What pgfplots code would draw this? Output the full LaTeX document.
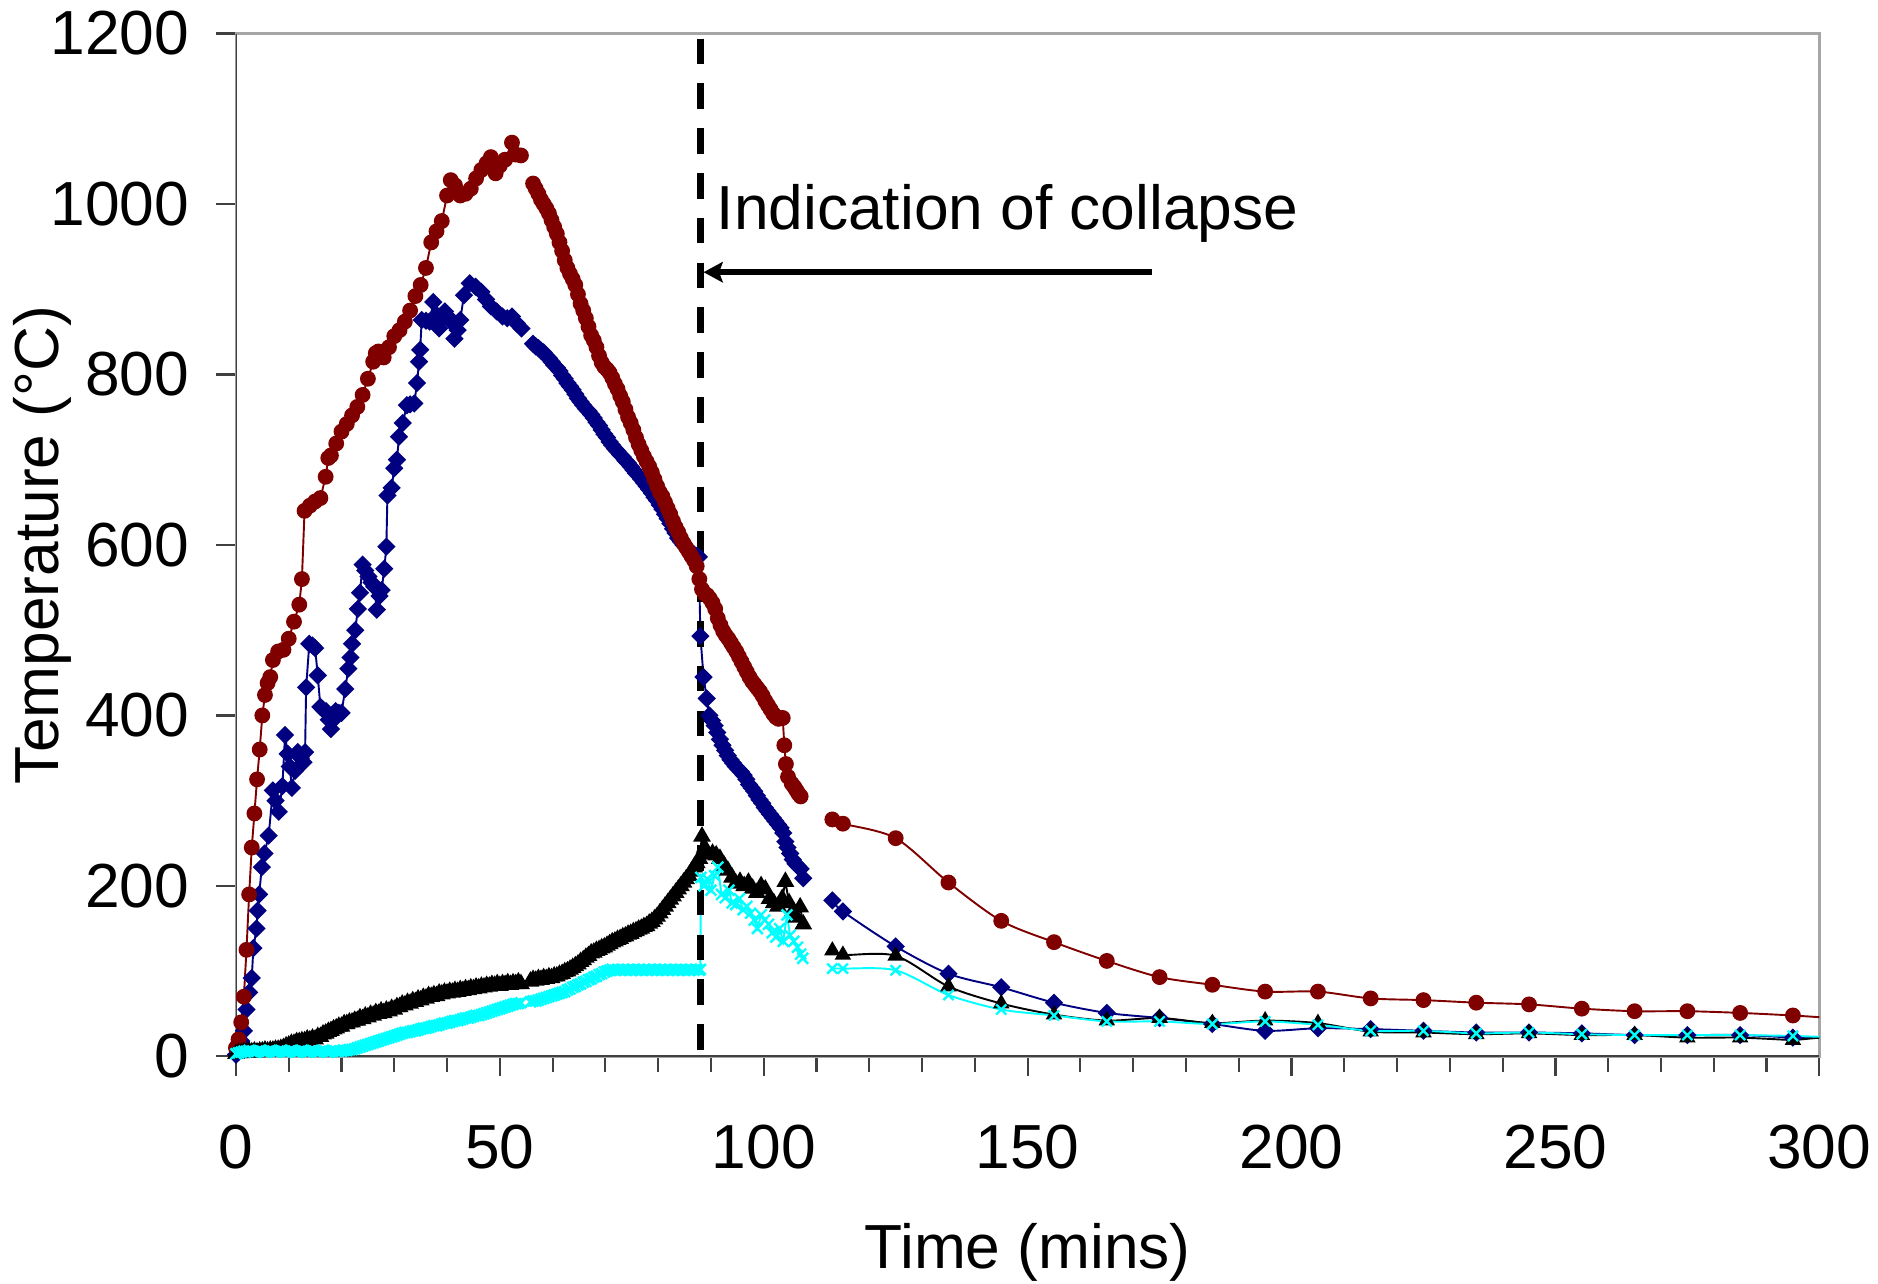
\documentclass[border=0pt]{standalone}
\usepackage{pgfplots}
\pgfplotsset{compat=1.18}
\usepackage{fontspec}
\setmainfont{Liberation Sans}
\usetikzlibrary{arrows.meta}
\definecolor{dred}{HTML}{800000}
\definecolor{dblue}{HTML}{000080}
\definecolor{cy}{HTML}{00FFFF}
\newcommand\bigf{\fontsize{26}{31}\selectfont}
\begin{document}
\begin{tikzpicture}
\begin{axis}[
  scale only axis, width=661pt, height=427pt,
  xmin=0, xmax=300, ymin=0, ymax=1200,
  xtick={0,50,...,300}, ytick={0,200,...,1200},
  minor x tick num=4,
  tick align=outside, xtick pos=bottom, ytick pos=left,
  major tick length=8.3pt, minor tick length=6.7pt,
  axis line style={gray!70, line width=1pt},
  tick style={black!75, line width=0.9pt},
  unbounded coords=jump,
  /pgf/number format/assume math mode=true,
  /pgf/number format/1000 sep={},
  tick label style={font=\bigf},
  xticklabel style={anchor=base, inner sep=0pt, yshift=-38.5pt},
  yticklabel style={anchor=east, inner sep=0pt, xshift=-11pt},
  xlabel={Time (mins)}, ylabel={Temperature (°C)},
  label style={font=\bigf},
  xlabel style={at={(axis description cs:0.5,0)}, anchor=base, inner sep=0pt, yshift=-88.5pt},
  ylabel style={at={(axis description cs:-0.1225,0.5)}, anchor=center, inner sep=0pt},
]
\coordinate (O) at (rel axis cs:0,0);
% ---------- blue (diamonds) ----------
\addplot[dblue, line width=0.8pt, mark=square*, mark size=2.3pt, mark options={rotate=45, fill=dblue, draw=dblue}] coordinates {
(0,2)(0.5,5)(1,18)(1.5,30)(2,55)(2.5,75)(3,92)(3.3,127)(3.9,150)(4.1,171)(4.4,190)(4.9,222)(5.4,238)(6.2,259)(7,312)(7.5,300)(8.1,287)(8.8,317)(9.3,377)(9.8,355)(10.2,340)(10.6,315)(11.2,335)(11.7,357)(12.3,350)(12.8,345)(13.1,357)(13.3,433)(13.9,484)(14.5,482)(15,479)(15.5,447)(16,410)(16.5,407)(17.1,405)(17.6,395)(18,384)(18.5,395)(18.9,405)(19.5,403)(20,403)(20.7,431)(21.3,455)(21.7,468)(22,484)(22.6,500)(23.1,525)(23.5,544)(24,577)(24.5,570)(25.1,563)(25.7,556)(26.2,551)(26.7,524)(27.2,540)(27.6,547)(28.1,572)(28.5,598)(28.7,658)(29.5,667)(30,690)(30.5,700)(30.9,727)(31.6,743)(32.4,764)(33,765)(33.8,766)(34.3,790)(34.7,815)(34.9,829)(35.2,864)(36,863)(36.7,862)(37.4,885)(38,870)(38.5,854)(39,865)(39.6,874)(40.2,868)(40.7,862)(41.4,842)(42,852)(42.5,864)(43.2,893)(44.3,907)(45.4,903)(46.5,897)(47.4,888)(48.3,880)(49.4,874)(50.5,868)(51.4,866)(52.3,868)(53.2,860)(54.1,854)
(55,nan)
(56.3,836)(56.8,833)(57.3,831)(57.8,828)(58.3,826)(58.8,822)(59.3,819)(59.8,815)(60.3,811)(60.8,808)(61.3,804)(61.8,799)(62.3,795)(62.8,790)(63.3,786)(63.8,782)(64.3,777)(64.8,772)(65.3,768)(65.8,764)(66.3,760)(66.8,757)(67.3,753)(67.8,749)(68.3,744)(68.8,740)(69.3,735)(69.8,730)(70.3,726)(70.8,721)(71.3,717)(71.8,713)(72.3,710)(72.8,706)(73.3,703)(73.8,699)(74.3,696)(74.8,692)(75.3,688)(75.8,684)(76.3,681)(76.8,677)(77.3,673)(77.8,669)(78.3,665)(78.8,661)(79.3,656)(79.8,652)(80.3,647)(80.8,642)(81.3,636)(81.8,631)(82.3,625)(82.8,619)(83.3,614)(83.8,608)(84.3,604)(84.8,600)(85.3,597)(85.8,594)(86.3,591)(86.8,589)(87.3,587)(87.7,586)
(88,493)(88.6,445)(89.2,420)(89.7,400)(90.2,394)(90.7,388)(91.2,380)(91.7,372)(92.2,365)(92.7,359)(93.2,353)(93.7,348)(94.2,344)(94.7,340)(95.2,337)(95.7,334)(96.2,330)(96.7,325)(97.2,319)(97.7,315)(98.2,311)(98.7,306)(99.2,301)(99.7,297)(100.2,292)(100.7,288)(101.2,284)(101.7,280)(102.2,276)(102.7,272)(103.2,268)(103.7,262)(104.1,252)(104.5,245)(105,238)(105.5,231)(106,226)(106.5,223)(107,220)(107.5,209)
};
\addplot[dblue, line width=0.8pt, smooth, mark=square*, mark size=2.3pt, mark options={rotate=45, fill=dblue, draw=dblue}] coordinates {
(113,183)(115,170)(125,129)(135,97)(145,81)(155,63)(165,51)(175,45)(185,38)(195,30)(205,33)(215,32)(225,30)(235,28)(245,28)(255,27)(265,25)(275,25)(285,25)(295,22)
};
\addplot[dblue, line width=0.8pt] coordinates {(295,22)(300,22)};
% ---------- red (circles) ----------
\addplot[dred, line width=0.8pt, mark=*, mark size=2.9pt, mark options={fill=dred, draw=dred}] coordinates {
(0,10)(0.5,20)(1,40)(1.5,70)(2,125)(2.5,190)(3,245)(3.5,285)(4,325)(4.5,360)(5,400)(5.5,424)(6,438)(6.5,445)(7,465)(8,475)(9,477)(10,490)(11,510)(12,530)(12.5,560)(13,640)(14,646)(15,651)(16,655)(17,680)(17.5,702)(18,705)(19,719)(20,733)(21,742)(22,752)(23,762)(24,776)(25,795)(26,815)(26.5,825)(27,827)(28,820)(29,832)(30,845)(31,852)(32,862)(33,875)(34,892)(35,905)(36,925)(37,955)(38,968)(39,980)(40,1010)(40.7,1028)(41.5,1022)(42.5,1010)(43.5,1012)(44.5,1018)(45.5,1030)(46.5,1040)(47.5,1048)(48.3,1055)(49.2,1036)(50,1045)(51,1052)(52.3,1072)(53,1058)(54,1057)
(55,nan)
(56.3,1024)(56.8,1018)(57.3,1012)(57.8,1005)(58.3,1000)(58.8,995)(59.3,989)(59.8,981)(60.3,973)(60.8,965)(61.3,955)(61.8,945)(62.3,934)(62.8,925)(63.3,918)(63.8,912)(64.3,905)(64.8,894)(65.3,883)(65.8,875)(66.3,866)(66.8,856)(67.3,846)(67.8,840)(68.3,832)(68.8,822)(69.3,814)(69.8,809)(70.3,806)(70.8,802)(71.3,796)(71.8,789)(72.3,783)(72.8,775)(73.3,768)(73.8,759)(74.3,750)(74.8,743)(75.3,735)(75.8,726)(76.3,718)(76.8,711)(77.3,704)(77.8,698)(78.3,692)(78.8,685)(79.3,677)(79.8,669)(80.3,662)(80.8,657)(81.3,650)(81.8,643)(82.3,636)(82.8,628)(83.3,621)(83.8,615)(84.3,608)(84.8,602)(85.3,597)(85.8,592)(86.3,587)(86.8,582)(87.3,575)(87.8,560)(88.3,548)(88.8,543)(89.3,541)(89.8,537)(90.3,532)(90.8,525)(91.3,514)(91.8,506)(92.3,499)(92.8,494)(93.3,490)(93.8,485)(94.3,480)(94.8,475)(95.3,469)(95.8,463)(96.3,457)(96.8,451)(97.3,445)(97.8,440)(98.3,436)(98.8,432)(99.3,428)(99.8,423)(100.3,417)(100.8,412)(101.3,407)(101.8,402)(102.3,398)(102.8,396)(103.3,397)(103.6,397)(103.9,365)(104.2,343)(104.6,328)(105.3,320)(105.8,316)(106.2,312)(106.6,308)(107,305)
};
\addplot[dred, line width=0.8pt, smooth, mark=*, mark size=2.9pt, mark options={fill=dred, draw=dred}] coordinates {
(113,278)(115,273)(125,256)(135,204)(145,159)(155,134)(165,112)(175,93)(185,84)(195,76)(205,76)(215,68)(225,66)(235,63)(245,61)(255,56)(265,53)(275,53)(285,51)(295,48)
};
\addplot[dred, line width=0.8pt] coordinates {(295,48)(300,46)};
% ---------- black (triangles) ----------
\addplot[black, line width=0.8pt, mark=triangle*, mark size=3.5pt, mark options={fill=black}] coordinates {
(0,3)(0.5,4)(1,4)(1.5,5)(2,5)(2.5,6)(3,5)(3.5,6)(4,5)(4.5,6)(5,6)(5.5,7)(6,6)(6.5,7)(7,7)(7.5,8)(8,8)(8.5,9)(9,10)(9.5,12)(10,13)(10.5,15)(11,15)(11.5,17)(12,17)(12.5,18)(13,18)(13.5,20)(14,19)(14.5,21)(15,20)(15.5,23)(16,23)(16.5,26)(17,27)(17.5,29)(18,30)(18.5,32)(19,33)(19.5,35)(20,35)(20.5,38)(21,38)(21.5,40)(22,40)(22.5,42)(23,42)(23.5,45)(24,44)(24.5,47)(25,46)(25.5,49)(26,48)(26.5,51)(27,50)(27.5,53)(28,51)(28.5,54)(29,53)(29.5,56)(30,55)(30.5,58)(31,58)(31.5,61)(32,60)(32.5,63)(33,62)(33.5,65)(34,64)(34.5,67)(35,66)(35.5,69)(36,68)(36.5,71)(37,70)(37.5,72)(38,71)(38.5,74)(39,73)(39.5,75)(40,74)(40.5,76)(41,75)(41.5,77)(42,76)(42.5,78)(43,77)(43.5,79)(44,78)(44.5,80)(45,79)(45.5,81)(46,80)(46.5,82)(47,81)(47.5,83)(48,82)(48.5,84)(49,83)(49.5,85)(50,83)(50.5,85)(51,84)(51.5,86)(52,84)(52.5,86)(53,85)(53.5,87)(54,85)
(55,nan)
(55.8,88)(56.3,90)(56.8,89)(57.3,91)(57.8,90)(58.3,92)(58.8,91)(59.3,93)(59.8,92)(60.3,94)(60.8,94)(61.3,96)(61.8,97)(62.3,99)(62.8,100)(63.3,102)(63.8,104)(64.3,106)(64.8,108)(65.3,111)(65.8,113)(66.3,116)(66.8,118)(67.3,121)(67.8,122)(68.3,124)(68.8,125)(69.3,127)(69.8,128)(70.3,130)(70.8,132)(71.3,134)(71.8,135)(72.3,137)(72.8,138)(73.3,140)(73.8,141)(74.3,143)(74.8,144)(75.3,146)(75.8,147)(76.3,149)(76.8,150)(77.3,152)(77.8,153)(78.3,156)(78.8,158)(79.3,161)(79.8,164)(80.3,168)(80.8,172)(81.3,176)(81.8,180)(82.3,184)(82.8,188)(83.3,192)(83.8,196)(84.3,200)(84.8,204)(85.3,208)(85.8,212)(86.3,217)(86.8,222)(87.3,227)(87.8,232)(88.3,258)(88.8,245)(89.5,237)(90.3,238)(91,236)(91.7,232)(92.5,224)(93.2,218)(94,210)(94.7,203)(95.5,205)(96.3,200)(97.1,204)(97.9,197)(98.7,192)(99.5,200)(100.3,196)(101.1,185)(101.9,180)(102.7,176)(103.5,185)(104.1,205)(104.8,180)(105.5,170)(106.2,163)(106.9,175)(107.5,155)
};
\addplot[black, line width=0.8pt, smooth, mark=triangle*, mark size=3.2pt, mark options={fill=black}] coordinates {
(113,124)(115,119)(125,118)(135,82)(145,62)(155,49)(165,42)(175,45)(185,39)(195,42)(205,39)(215,29)(225,28)(235,26)(245,27)(255,25)(265,25)(275,22)(285,22)(295,19)
};
\addplot[black, line width=0.8pt] coordinates {(295,19)(300,22)};
% ---------- cyan (x) ----------
\addplot[cy, line width=0.8pt, mark=x, mark size=3.2pt, mark options={line width=1pt}] coordinates {
(0,3)(0.5,4)(1,5)(1.5,6)(2,6)(2.5,7)(3,6)(3.5,5)(4,6)(4.5,7)(5,6)(5.5,5)(6,6)(6.5,7)(7,6)(7.5,5)(8,6)(8.5,7)(9,6)(9.5,5)(10,6)(10.5,7)(11,6)(11.5,5)(12,6)(12.5,7)(13,6)(13.5,5)(14,6)(14.5,7)(15,6)(15.5,5)(16,6)(16.5,7)(17,6)(17.5,5)(18,6)(18.5,7)(19,6)(19.5,6)(20,6)(20.5,7)(21,7)(21.5,8)(22,8)(22.5,9)(23,10)(23.5,11)(24,12)(24.5,13)(25,14)(25.5,15)(26,16)(26.5,17)(27,18)(27.5,19)(28,20)(28.5,21)(29,22)(29.5,23)(30,24)(30.5,25)(31,26)(31.5,27)(32,28)(32.5,28)(33,29)(33.5,30)(34,30)(34.5,31)(35,32)(35.5,33)(36,33)(36.5,34)(37,35)(37.5,36)(38,36)(38.5,37)(39,38)(39.5,39)(40,39)(40.5,40)(41,41)(41.5,42)(42,42)(42.5,43)(43,44)(43.5,45)(44,45)(44.5,46)(45,47)(45.5,48)(46,48)(46.5,49)(47,50)(47.5,51)(48,52)(48.5,53)(49,54)(49.5,55)(50,56)(50.5,57)(51,58)(51.5,59)(52,60)(52.5,61)(53,62)(53.5,62)(54,63)
(55,nan)
(55.8,64)(56.3,65)(56.8,65)(57.3,66)(57.8,67)(58.3,68)(58.8,69)(59.3,70)(59.8,71)(60.3,72)(60.8,73)(61.3,74)(61.8,75)(62.3,76)(62.8,78)(63.3,79)(63.8,81)(64.3,82)(64.8,84)(65.3,85)(65.8,87)(66.3,88)(66.8,90)(67.3,91)(67.8,93)(68.3,94)(68.8,96)(69.3,97)(69.8,99)(70.3,100)(70.8,101)(71.3,102)(71.8,101)(72.3,102)(72.8,101)(73.3,102)(73.8,101)(74.3,102)(74.8,101)(75.3,102)(75.8,101)(76.3,102)(76.8,101)(77.3,102)(77.8,101)(78.3,102)(78.8,101)(79.3,102)(79.8,101)(80.3,102)(80.8,101)(81.3,102)(81.8,101)(82.3,102)(82.8,101)(83.3,102)(83.8,101)(84.3,102)(84.8,101)(85.3,102)(85.8,101)(86.3,102)(86.8,101)(87.3,102)(87.8,101)(88,102)
(88.1,210)(88.7,200)(89.3,208)(90,195)(90.7,212)(91.3,222)(92,190)(92.7,186)(93.4,195)(94,180)(94.7,178)(95.4,185)(96.1,172)(96.8,176)(97.5,168)(98.2,160)(98.8,150)(99.5,166)(100.2,160)(100.9,155)(101.6,145)(102.3,140)(103,150)(103.7,135)(104.4,166)(105,142)(105.7,135)(106.4,128)(107,120)(107.4,115)
};
\addplot[cy, line width=0.8pt, smooth, mark=x, mark size=3pt, mark options={line width=1pt}] coordinates {
(113,103)(115,103)(125,101)(135,72)(145,55)(155,48)(165,41)(175,41)(185,38)(195,41)(205,37)(215,30)(225,30)(235,27)(245,28)(255,26)(265,25)(275,25)(285,25)(295,24)
};
\addplot[cy, line width=0.8pt] coordinates {(295,24)(300,23)};
% ---------- annotations ----------
\draw[black, line width=2.8pt, dash pattern=on 10.7pt off 8pt] (axis cs:88,1194) -- (axis cs:88,0);
\draw[black, line width=2.6pt, -{Stealth[length=8pt, width=8.5pt, inset=1.5pt]}] (axis cs:173.6,920) -- (axis cs:88.6,920);
\node[anchor=base west, inner sep=0pt, font=\bigf] at (axis cs:91,970) {Indication of collapse};
\draw[black!75, line width=1.2pt] (rel axis cs:0,1) -- (rel axis cs:0,0) -- (rel axis cs:1,0);
\end{axis}
\pgfresetboundingbox
\path ([shift={(-98.5pt,-95pt)}]O) rectangle ++(784pt,536pt);
\end{tikzpicture}
\end{document}
